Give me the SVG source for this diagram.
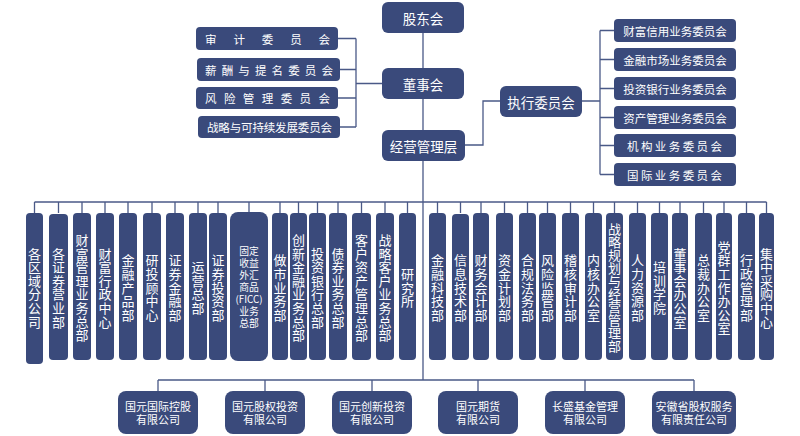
<svg xmlns="http://www.w3.org/2000/svg" width="800" height="436" viewBox="0 0 800 436">
<style>
.b{fill:#3a4a7b;}
.t{fill:#ffffff;font-family:"Noto Sans CJK SC","Noto Sans",sans-serif;text-anchor:middle;dominant-baseline:central;}
.top{font-size:13.5px;}
.c{font-size:11.5px;}
.v{font-size:13px;}
.f{font-size:9.8px;}
.co{font-size:11px;}
.ln{stroke:#4a5987;stroke-width:1.3;fill:none;}
</style>
<rect width="800" height="436" fill="#ffffff"/>
<g id="connectors" class="ln">
  <path d="M423 33V68M423 99V130M423 161V380"/>
  <path d="M338 38.5H356M340 69.5H356M338 98H356M340 127H356M356 38.5V127M356 83.5H382"/>
  <path d="M465 145H483V101H500M582 101H600M600 30.5V174.5M600 30.5H614M600 59.5H614M600 88.5H614M600 117.5H614M600 145.5H614M600 174.5H614"/>
  <path d="M34.5 202H766.5"/>
  <path d="M34.5 202V213M58.5 202V213M82 202V213M105 202V213M128 202V213M152 202V213M175 202V213M198 202V213M218 202V213M249 202V212M280 202V213M298.5 202V213M317.5 202V213M338 202V213M361.5 202V213M385 202V213M407.5 202V213M437.5 202V213M460.5 202V213M481 202V213M504.5 202V213M527.5 202V213M547.5 202V213M570.5 202V213M593.5 202V213M614.5 202V213M637.5 202V213M659.5 202V213M680 202V213M703.5 202V213M724 202V213M746.5 202V213M766.5 202V213"/>
  <path d="M158 380H694M158 380V391M265 380V391M372 380V391M478 380V391M585 380V391M694 380V391"/>
</g>
<g id="gudonghui"><rect class="b" x="382" y="2" width="82" height="31" rx="6"/><text class="t top" x="423" y="17.5">股东会</text></g>
<g id="dongshihui"><rect class="b" x="382" y="68" width="82" height="31" rx="6"/><text class="t top" x="423" y="83.5">董事会</text></g>
<g id="jingying"><rect class="b" x="382" y="130" width="83" height="31" rx="6"/><text class="t top" x="423.5" y="145.5">经营管理层</text></g>
<g id="zhixing"><rect class="b" x="500" y="86" width="82" height="31" rx="6"/><text class="t top" x="541" y="101.5">执行委员会</text></g>
<g id="c-shenji"><rect class="b" x="196" y="27" width="142" height="23" rx="4"/><text class="t c" style="text-anchor:start" x="205" y="38.5" textLength="125" lengthAdjust="spacing">审计委员会</text></g>
<g id="c-xinchou"><rect class="b" x="197" y="58" width="143" height="23" rx="4"/><text class="t c" style="text-anchor:start" x="205" y="69.5" textLength="128" lengthAdjust="spacing">薪酬与提名委员会</text></g>
<g id="c-fengxian"><rect class="b" x="196" y="87" width="142" height="22" rx="4"/><text class="t c" style="text-anchor:start" x="205" y="98" textLength="125" lengthAdjust="spacing">风险管理委员会</text></g>
<g id="c-zhanlue"><rect class="b" x="198" y="116" width="142" height="22" rx="4"/><text class="t c" style="text-anchor:start" x="207" y="127" textLength="125" lengthAdjust="spacing">战略与可持续发展委员会</text></g>
<g id="r1"><rect class="b" x="614" y="19" width="122" height="23" rx="4"/><text class="t c" x="675" y="30.5">财富信用业务委员会</text></g>
<g id="r2"><rect class="b" x="614" y="48" width="122" height="23" rx="4"/><text class="t c" x="675" y="59.5">金融市场业务委员会</text></g>
<g id="r3"><rect class="b" x="614" y="77" width="122" height="23" rx="4"/><text class="t c" x="675" y="88.5">投资银行业务委员会</text></g>
<g id="r4"><rect class="b" x="614" y="106" width="122" height="23" rx="4"/><text class="t c" x="675" y="117.5">资产管理业务委员会</text></g>
<g id="r5"><rect class="b" x="614" y="134" width="122" height="23" rx="4"/><text class="t c" style="text-anchor:start" x="627" y="145.5" textLength="95" lengthAdjust="spacing">机构业务委员会</text></g>
<g id="r6"><rect class="b" x="614" y="163" width="122" height="23" rx="4"/><text class="t c" style="text-anchor:start" x="627" y="174.5" textLength="95" lengthAdjust="spacing">国际业务委员会</text></g>
<g id="d1"><rect class="b" x="26" y="213" width="17" height="151" rx="4"/><text class="t v" x="34.5 34.5 34.5 34.5 34.5 34.5" y="253 266.6 280.2 293.8 307.4 321">各区域分公司</text></g>
<g id="d2"><rect class="b" x="49" y="214" width="19" height="146" rx="4"/><text class="t v" x="58.5 58.5 58.5 58.5 58.5 58.5" y="253 266.6 280.2 293.8 307.4 321">各证券营业部</text></g>
<g id="d3"><rect class="b" x="73" y="213" width="18" height="147" rx="4"/><text class="t v" x="82 82 82 82 82 82 82 82" y="239.4 253 266.6 280.2 293.8 307.4 321 334.6">财富管理业务总部</text></g>
<g id="d4"><rect class="b" x="96" y="213" width="18" height="147" rx="4"/><text class="t v" x="105 105 105 105 105 105" y="253 266.6 280.2 293.8 307.4 321">财富行政中心</text></g>
<g id="d5"><rect class="b" x="119" y="213" width="18" height="147" rx="4"/><text class="t v" x="128 128 128 128 128" y="259.8 273.4 287 300.6 314.2">金融产品部</text></g>
<g id="d6"><rect class="b" x="143" y="213" width="18" height="147" rx="4"/><text class="t v" x="152 152 152 152 152" y="259.8 273.4 287 300.6 314.2">研投顾中心</text></g>
<g id="d7"><rect class="b" x="166" y="213" width="18" height="147" rx="4"/><text class="t v" x="175 175 175 175 175" y="259.8 273.4 287 300.6 314.2">证券金融部</text></g>
<g id="d8"><rect class="b" x="189" y="213" width="18" height="147" rx="4"/><text class="t v" x="198 198 198 198" y="266.6 280.2 293.8 307.4">运营总部</text></g>
<g id="d9"><rect class="b" x="209" y="213" width="18" height="147" rx="4"/><text class="t v" x="218 218 218 218 218" y="259.8 273.4 287 300.6 314.2">证券投资部</text></g>
<g id="d10"><rect class="b" x="230" y="212" width="38" height="149" rx="8"/>
<text class="t f"><tspan x="249" y="251">固定</tspan><tspan x="249" y="263">收益</tspan><tspan x="249" y="275">外汇</tspan><tspan x="249" y="287">商品</tspan><tspan x="249" y="299">(FICC)</tspan><tspan x="249" y="311">业务</tspan><tspan x="249" y="323">总部</tspan></text></g>
<g id="d11"><rect class="b" x="272" y="213" width="16" height="147" rx="4"/><text class="t v" x="280 280 280 280 280" y="259.8 273.4 287 300.6 314.2">做市业务部</text></g>
<g id="d12"><rect class="b" x="290" y="213" width="17" height="147" rx="4"/><text class="t v" x="298.5 298.5 298.5 298.5 298.5 298.5 298.5 298.5" y="239.4 253 266.6 280.2 293.8 307.4 321 334.6">创新金融业务总部</text></g>
<g id="d13"><rect class="b" x="309" y="213" width="17" height="147" rx="4"/><text class="t v" x="317.5 317.5 317.5 317.5 317.5 317.5" y="253 266.6 280.2 293.8 307.4 321">投资银行总部</text></g>
<g id="d14"><rect class="b" x="329" y="213" width="18" height="147" rx="4"/><text class="t v" x="338 338 338 338 338 338" y="253 266.6 280.2 293.8 307.4 321">债券业务总部</text></g>
<g id="d15"><rect class="b" x="352" y="213" width="19" height="147" rx="4"/><text class="t v" x="361.5 361.5 361.5 361.5 361.5 361.5 361.5 361.5" y="239.4 253 266.6 280.2 293.8 307.4 321 334.6">客户资产管理总部</text></g>
<g id="d16"><rect class="b" x="376" y="213" width="18" height="147" rx="4"/><text class="t v" x="385 385 385 385 385 385 385 385" y="239.4 253 266.6 280.2 293.8 307.4 321 334.6">战略客户业务总部</text></g>
<g id="d17"><rect class="b" x="399" y="213" width="17" height="147" rx="4"/><text class="t v" x="407.5 407.5 407.5" y="273.4 287 300.6">研究所</text></g>
<g id="d18"><rect class="b" x="429" y="213" width="17" height="147" rx="4"/><text class="t v" x="437.5 437.5 437.5 437.5 437.5" y="259.8 273.4 287 300.6 314.2">金融科技部</text></g>
<g id="d19"><rect class="b" x="452" y="214" width="17" height="146" rx="4"/><text class="t v" x="460.5 460.5 460.5 460.5 460.5" y="259.8 273.4 287 300.6 314.2">信息技术部</text></g>
<g id="d20"><rect class="b" x="473" y="213" width="16" height="147" rx="4"/><text class="t v" x="481 481 481 481 481" y="259.8 273.4 287 300.6 314.2">财务会计部</text></g>
<g id="d21"><rect class="b" x="496" y="213" width="17" height="147" rx="4"/><text class="t v" x="504.5 504.5 504.5 504.5 504.5" y="259.8 273.4 287 300.6 314.2">资金计划部</text></g>
<g id="d22"><rect class="b" x="519" y="213" width="17" height="147" rx="4"/><text class="t v" x="527.5 527.5 527.5 527.5 527.5" y="259.8 273.4 287 300.6 314.2">合规法务部</text></g>
<g id="d23"><rect class="b" x="539" y="213" width="17" height="147" rx="4"/><text class="t v" x="547.5 547.5 547.5 547.5 547.5" y="259.8 273.4 287 300.6 314.2">风险监管部</text></g>
<g id="d24"><rect class="b" x="562" y="213" width="17" height="147" rx="4"/><text class="t v" x="570.5 570.5 570.5 570.5 570.5" y="259.8 273.4 287 300.6 314.2">稽核审计部</text></g>
<g id="d25"><rect class="b" x="585" y="213" width="17" height="147" rx="4"/><text class="t v" x="593.5 593.5 593.5 593.5 593.5" y="259.8 273.4 287 300.6 314.2">内核办公室</text></g>
<g id="d26"><rect class="b" x="606" y="213" width="17" height="147" rx="4"/><text class="t v" x="614.5 614.5 614.5 614.5 614.5 614.5 614.5 614.5 614.5 614.5" y="228.5 241.5 254.5 267.5 280.5 293.5 306.5 319.5 332.5 345.5">战略规划与经营管理部</text></g>
<g id="d27"><rect class="b" x="629" y="213" width="17" height="147" rx="4"/><text class="t v" x="637.5 637.5 637.5 637.5 637.5" y="259.8 273.4 287 300.6 314.2">人力资源部</text></g>
<g id="d28"><rect class="b" x="651" y="213" width="17" height="147" rx="4"/><text class="t v" x="659.5 659.5 659.5 659.5" y="266.6 280.2 293.8 307.4">培训学院</text></g>
<g id="d29"><rect class="b" x="672" y="213" width="16" height="147" rx="4"/><text class="t v" x="680 680 680 680 680 680" y="253 266.6 280.2 293.8 307.4 321">董事会办公室</text></g>
<g id="d30"><rect class="b" x="695" y="213" width="17" height="147" rx="4"/><text class="t v" x="703.5 703.5 703.5 703.5 703.5" y="259.8 273.4 287 300.6 314.2">总裁办公室</text></g>
<g id="d31"><rect class="b" x="716" y="213" width="16" height="147" rx="4"/><text class="t v" x="724 724 724 724 724 724 724" y="246.2 259.8 273.4 287 300.6 314.2 327.8">党群工作办公室</text></g>
<g id="d32"><rect class="b" x="738" y="213" width="17" height="147" rx="4"/><text class="t v" x="746.5 746.5 746.5 746.5 746.5" y="259.8 273.4 287 300.6 314.2">行政管理部</text></g>
<g id="d33"><rect class="b" x="759" y="213" width="15" height="147" rx="4"/><text class="t v" x="766.5 766.5 766.5 766.5 766.5 766.5" y="253 266.6 280.2 293.8 307.4 321">集中采购中心</text></g>
<g id="s1"><rect class="b" x="118" y="391" width="80" height="43" rx="8"/><text class="t co"><tspan x="158" y="405.5">国元国际控股</tspan><tspan x="158" y="419">有限公司</tspan></text></g>
<g id="s2"><rect class="b" x="225" y="391" width="80" height="43" rx="8"/><text class="t co"><tspan x="265" y="405.5">国元股权投资</tspan><tspan x="265" y="419">有限公司</tspan></text></g>
<g id="s3"><rect class="b" x="332" y="391" width="80" height="43" rx="8"/><text class="t co"><tspan x="372" y="405.5">国元创新投资</tspan><tspan x="372" y="419">有限公司</tspan></text></g>
<g id="s4"><rect class="b" x="438" y="391" width="80" height="43" rx="8"/><text class="t co"><tspan x="478" y="405.5">国元期货</tspan><tspan x="478" y="419">有限公司</tspan></text></g>
<g id="s5"><rect class="b" x="545" y="391" width="80" height="43" rx="8"/><text class="t co"><tspan x="585" y="405.5">长盛基金管理</tspan><tspan x="585" y="419">有限公司</tspan></text></g>
<g id="s6"><rect class="b" x="652" y="391" width="84" height="43" rx="8"/><text class="t co"><tspan x="694" y="405.5">安徽省股权服务</tspan><tspan x="694" y="419">有限责任公司</tspan></text></g>
</svg>
